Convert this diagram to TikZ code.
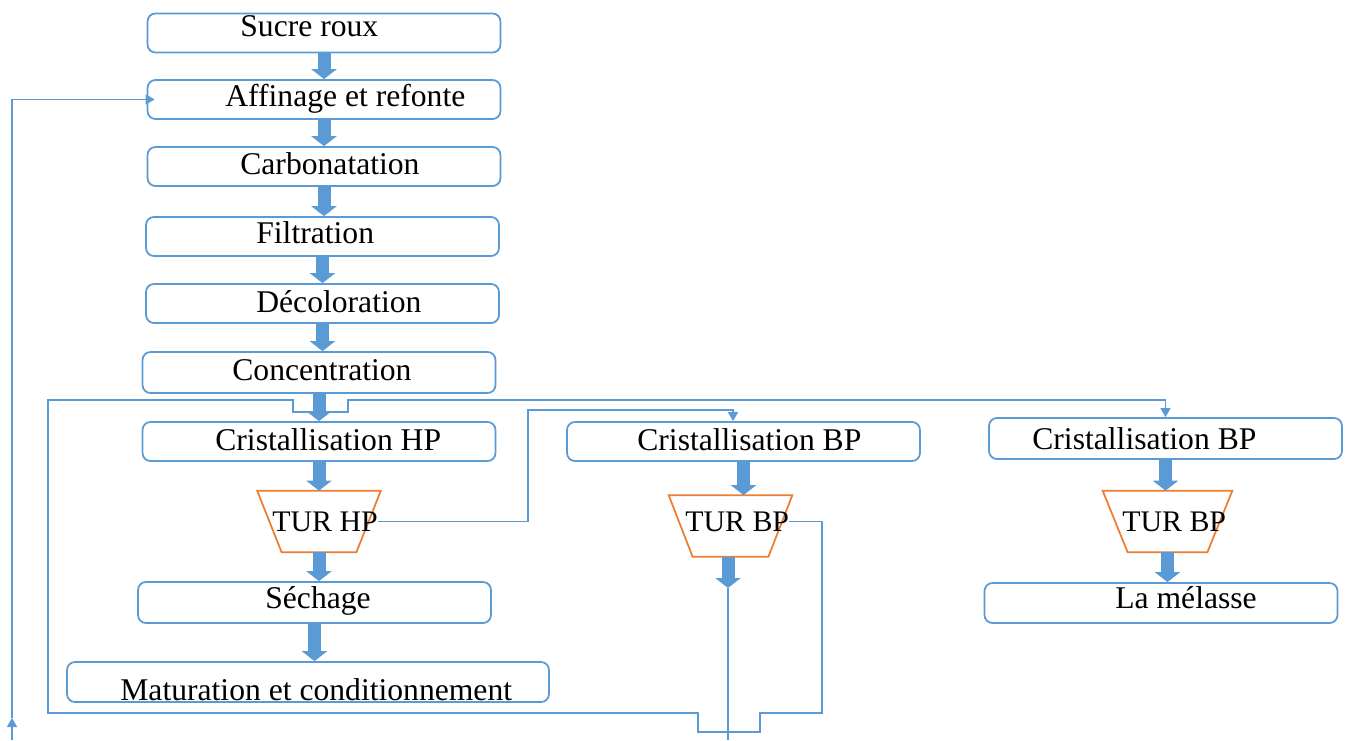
\documentclass[tikz,border=0pt]{standalone}
\usepackage{fontspec}
\setmainfont{Liberation Serif}
\usetikzlibrary{arrows.meta}
\definecolor{lineblue}{HTML}{5B9BD5}
\definecolor{turorange}{HTML}{ED7D31}

\begin{document}
\begin{tikzpicture}[x=0.02cm,y=-0.02cm,
  box/.style={draw=lineblue,line width=1pt,rounded corners=4.5pt,fill=white,minimum width=7.06cm,minimum height=0.78cm,inner sep=0pt},
  turbox/.style={minimum width=2.46cm,minimum height=1.22cm,inner sep=0pt},
  tur/.style={draw=turorange,line width=1pt,line join=miter},
  txt/.style={font=\fontsize{18}{20}\selectfont,inner sep=0pt,anchor=base west},
  turtxt/.style={font=\fontsize{17}{19}\selectfont,inner sep=0pt,anchor=base west},
  flow/.style={line width=0.26cm,lineblue,-{Triangle[width=0.5cm 0,length=0.2cm 0]}},
  link/.style={lineblue,line width=0.8pt,-{Triangle[width=0.2cm,length=0.18cm]}},
  plain/.style={lineblue,line width=0.8pt}]
\useasboundingbox (0,0) rectangle (1348,740);
% main line
\node[box] (sucre)    at (324,33)    {};
\node[box] (affinage) at (324,99.5)  {};
\node[box] (carbo)    at (324,166.5) {};
\node[box] (filtr)    at (322.5,236.5) {};
\node[box] (decol)    at (322.5,303.5) {};
\node[box,minimum height=0.82cm] (concen) at (319,372.5) {};
\node[box] (cristhp)  at (319,441.5) {};
\node[turbox] (turhp) at (319,521.5) {};
\node[box,minimum height=0.82cm] (sechage) at (314.5,602.5) {};
\node[box,minimum width=9.64cm,minimum height=0.8cm] (matur) at (308,682) {};
% second and third strike
\node[box] (cristbp)  at (743.5,441.5) {};
\node[turbox] (turbpm) at (730.5,526) {};
\node[box,minimum height=0.82cm] (cristbp2) at (1165.5,438.5) {};
\node[turbox,minimum width=2.58cm] (turbpr) at (1167.5,521.5) {};
\node[box,minimum height=0.8cm] (melasse) at (1161,603) {};
% turbines
\draw[tur] (turhp.north west) -- (turhp.north east) -- ([xshift=-0.49cm]turhp.south east) -- ([xshift=0.49cm]turhp.south west) -- cycle;
\draw[tur] (turbpm.north west) -- (turbpm.north east) -- ([xshift=-0.48cm]turbpm.south east) -- ([xshift=0.48cm]turbpm.south west) -- cycle;
\draw[tur] (turbpr.north west) -- (turbpr.north east) -- ([xshift=-0.5cm]turbpr.south east) -- ([xshift=0.5cm]turbpr.south west) -- cycle;
% texts
\node[txt] (tsucre)   at (240,37)  {Sucre roux};
\node[txt] (taffin)   at (225,107) {Affinage et refonte};
\node[txt] (tcarbo)   at (240,174) {Carbonatation};
\node[txt] (tfiltr)   at (256,243) {Filtration};
\node[txt] (tdecol)   at (256,312) {Décoloration};
\node[txt] (tconcen)  at (232,380) {Concentration};
\node[txt] (tcristhp) at (215,450) {Cristallisation HP};
\node[turtxt] (thp)   at (272,531) {TUR HP};
\node[txt] (tsechage) at (265,608) {Séchage};
\node[txt] (tmatur)   at (120,700) {Maturation et conditionnement};
\node[txt] (tcristbp) at (637,450) {Cristallisation BP};
\node[turtxt] (tbpm)  at (685,531) {TUR BP};
\node[txt] (tcristbp2) at (1032,449) {Cristallisation BP};
\node[turtxt] (tbpr)  at (1122,531) {TUR BP};
\node[txt] (tmelasse) at (1115,608) {La mélasse};
% block arrows
\draw[flow] (sucre.south) -- (sucre.south |- affinage.north);
\draw[flow] (affinage.south) -- (affinage.south |- carbo.north);
\draw[flow] (carbo.south) -- (carbo.south |- filtr.north);
\draw[flow] (filtr.south) -- (filtr.south |- decol.north);
\draw[flow] (decol.south) -- (decol.south |- concen.north);
\draw[flow] (concen.south) -- (concen.south |- cristhp.north);
\draw[flow] (cristhp.south) -- (cristhp.south |- turhp.north);
\draw[flow] (turhp.south) -- (turhp.south |- sechage.north);
\draw[flow] (sechage.south) -- (sechage.south |- matur.north);
\draw[flow] (cristbp.south) -- (cristbp.south |- turbpm.north);
\coordinate (bpdrop) at (728,588);
\coordinate (bpend) at (728,740);
\draw[flow] (turbpm.south -| bpdrop) -- (bpdrop);
\draw[plain] (bpdrop) -- (bpend);
\draw[flow] (cristbp2.south) -- (cristbp2.south |- turbpr.north);
\draw[flow] (turbpr.south) -- (turbpr.south |- melasse.north);
% recycling lines
\coordinate (recin) at (12,740);
\coordinate (recup) at (12,718);
\draw[link] (recin) -- (recup);
\draw[link] (recup) |- ([xshift=0.16cm]affinage.west);
\draw[link] (thp.east) -| (528,410) -| ([xshift=-0.21cm]cristbp.north);
\draw[link] (tbpm.east) -| (822,713) -- (760,713) -- (760,732) -- (698,732) -- (698,713)
  -- (48,713) -- (48,400) -- (293,400) -- (293,412) -- (348,412) -- (348,400) -| (cristbp2.north);
\end{tikzpicture}
\end{document}
